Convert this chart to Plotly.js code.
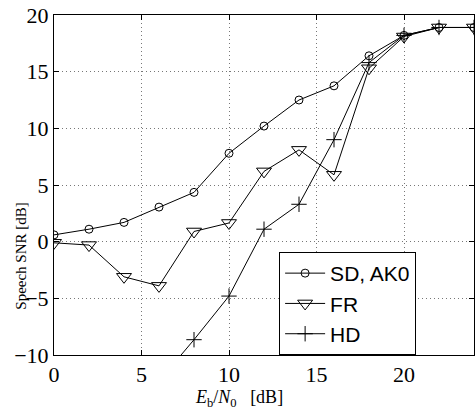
<!DOCTYPE html>
<html><head><meta charset="utf-8">
<script src="https://cdn.plot.ly/plotly-3.0.1.min.js"></script>
<style>html,body{margin:0;padding:0;background:#fff}#plot{width:475px;height:410px}</style>
</head><body><div id="plot"></div>
<script>
const ebno = [0, 2, 4, 6, 8, 10, 12, 14, 16, 18, 20, 22, 24];
const sdAk0 = [0.6, 1.1, 1.7, 3.05, 4.35, 7.8, 10.2, 12.5, 13.75, 16.4, 18.2, 18.9, 18.9];
const fr = [-0.1, -0.3, -3.1, -3.9, 0.9, 1.65, 6.2, 8.1, 5.9, 15.3, 18.1, 18.9, 18.9];
const hdX = [6, 8, 10, 12, 14, 16, 18, 20, 22, 24];
const hd = [-12.3, -8.65, -4.8, 1.1, 3.3, 9.0, 15.8, 18.2, 18.9, 18.9];
const names = ["SD, AK0", "FR", "HD"];
const xTicks = [0, 5, 10, 15, 20];
const yTicks = [-10, -5, 0, 5, 10, 15, 20];
const xTitle = "<i>E</i><sub>b</sub>/<i>N</i><sub>0</sub>&nbsp;&nbsp;&nbsp;[dB]";
const yTitle = "Speech SNR [dB]";

const font = "Liberation Serif";
const sans = "Liberation Sans";
const line = {color: "#000", width: 1};
const traces = [
  {x: ebno, y: sdAk0, name: names[0], mode: "lines+markers", line: line,
   marker: {symbol: "circle-open", size: 8, color: "#000", line: {width: 1}}},
  {x: ebno, y: fr, name: names[1], mode: "lines+markers", line: line,
   marker: {symbol: "triangle-down-open", size: 13, color: "#000", line: {width: 1}}},
  {x: hdX, y: hd, name: names[2], mode: "lines+markers", line: line,
   marker: {symbol: "cross-thin-open", size: 11, color: "#000", line: {width: 1}}}
];
function axis(range, ticks) {
  return {
    range: range, tickmode: "array", tickvals: ticks,
    showline: true, linecolor: "#000", linewidth: 1, mirror: "ticks",
    ticks: "inside", ticklen: 5, tickcolor: "#000",
    showgrid: true, gridcolor: "#777", griddash: "1px,3px", gridwidth: 1,
    zeroline: false,
    tickfont: {family: font, size: 22, color: "#000"}
  };
}
const layout = {
  width: 475, height: 410,
  font: {family: font, color: "#000", size: 22},
  margin: {l: 54, r: 1, t: 15, b: 55},
  paper_bgcolor: "#fff", plot_bgcolor: "#fff",
  showlegend: true,
  xaxis: axis([0, 24], xTicks),
  yaxis: axis([-10, 20], yTicks),
  annotations: [
    {text: xTitle, xref: "paper", yref: "paper", x: 0.441, y: -0.127,
     xanchor: "center", yanchor: "middle", showarrow: false,
     font: {family: font, size: 18, color: "#000"}},
    {text: yTitle, xref: "paper", yref: "paper", x: -0.0786, y: 0.292,
     xanchor: "center", yanchor: "middle", showarrow: false, textangle: -90,
     font: {family: font, size: 15, color: "#000"}}
  ],
  legend: {x: 0.536, y: 0.303, xanchor: "left", yanchor: "top",
    bgcolor: "#fff", bordercolor: "#000", borderwidth: 1,
    font: {family: sans, size: 21, color: "#000"}, itemwidth: 40, tracegroupgap: 0}
};
Plotly.newPlot("plot", traces, layout, {displayModeBar: false, staticPlot: true});
</script></body></html>
